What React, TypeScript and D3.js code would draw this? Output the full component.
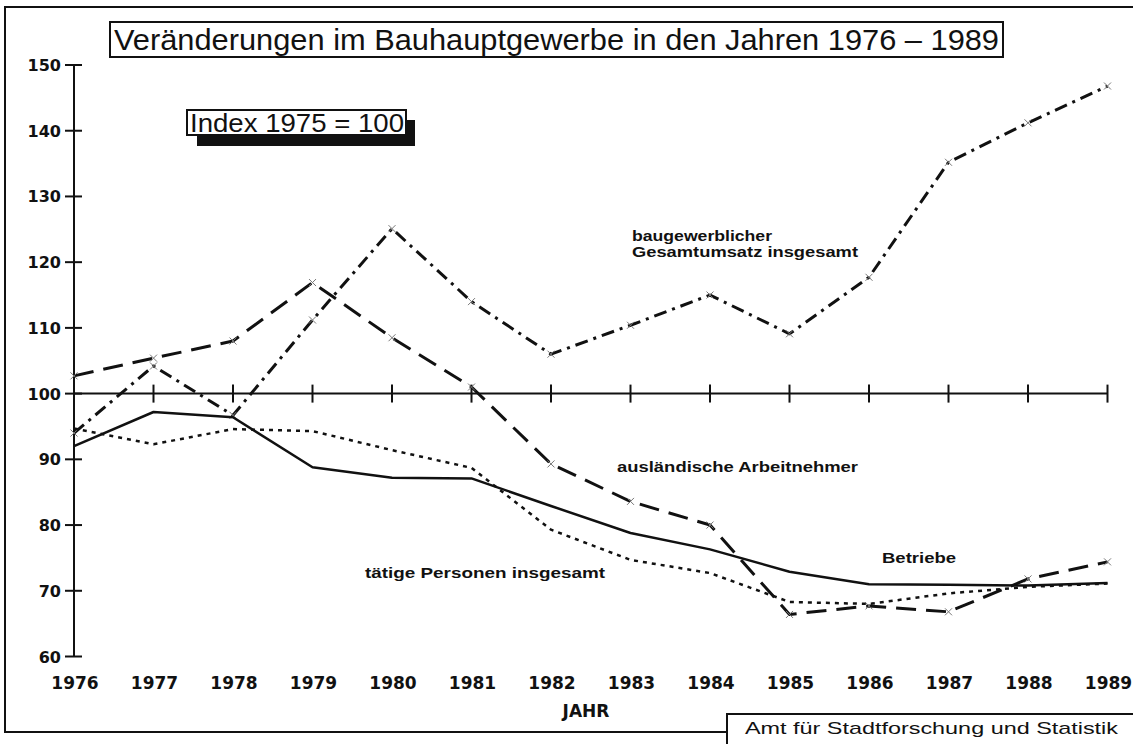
import * as d3 from 'd3';
import React, { useEffect, useRef } from 'react';

const years = [1976, 1977, 1978, 1979, 1980, 1981, 1982, 1983, 1984, 1985, 1986, 1987, 1988, 1989];
const umsatz = [94, 104.2, 96.7, 111.2, 125.1, 114, 106, 110.4, 115, 109.1, 117.7, 135.2, 141.2, 146.8];
const auslaender = [102.7, 105.4, 108, 116.9, 108.5, 101, 89.3, 83.6, 80, 66.4, 67.7, 66.8, 71.8, 74.4];
const betriebe = [92, 97.2, 96.4, 88.8, 87.2, 87.1, 82.9, 78.8, 76.3, 72.9, 71, 70.9, 70.8, 71.2];
const personen = [94.7, 92.3, 94.6, 94.3, 91.4, 88.7, 79.3, 74.7, 72.7, 68.3, 68, 69.6, 70.6, 71.1];
const yTicks = [60, 70, 80, 90, 100, 110, 120, 130, 140, 150];

const width = 1133;
const height = 744;
const boldFont = '"DejaVu Sans", Verdana, sans-serif';
const labelFont = '"Liberation Sans", Arial, sans-serif';
const narrowFont = '"Liberation Sans Narrow", "Liberation Sans", Arial, sans-serif';

export default function App() {
    const ref = useRef<SVGSVGElement>(null);

    useEffect(() => {
        const svg = d3.select(ref.current);
        svg.selectAll('*').remove();

        const x = d3.scaleLinear().domain([1976, 1989]).range([74, 1107.5]);
        const y = d3.scaleLinear().domain([60, 150]).range([656.5, 65]);

        svg.append('rect').attr('width', width).attr('height', height).attr('fill', '#fff');

        // outer frame
        svg.append('rect')
            .attr('x', 5).attr('y', 7).attr('width', 1140).attr('height', 725)
            .attr('fill', 'none').attr('stroke', '#111').attr('stroke-width', 2);

        // title
        svg.append('rect')
            .attr('x', 110).attr('y', 22).attr('width', 893).attr('height', 35)
            .attr('fill', '#fff').attr('stroke', '#111').attr('stroke-width', 2);
        svg.append('text')
            .attr('x', 114).attr('y', 50)
            .attr('font-family', narrowFont).attr('font-size', 30)
            .attr('textLength', 885).attr('lengthAdjust', 'spacingAndGlyphs')
            .attr('fill', '#111')
            .text('Veränderungen im Bauhauptgewerbe in den Jahren 1976 – 1989');

        // index box with shadow
        svg.append('rect').attr('x', 197).attr('y', 120).attr('width', 218).attr('height', 26).attr('fill', '#111');
        svg.append('rect')
            .attr('x', 187).attr('y', 110).attr('width', 219).attr('height', 25)
            .attr('fill', '#fff').attr('stroke', '#111').attr('stroke-width', 2);
        svg.append('text')
            .attr('x', 190).attr('y', 132)
            .attr('font-family', narrowFont).attr('font-size', 25)
            .attr('textLength', 214).attr('lengthAdjust', 'spacingAndGlyphs')
            .attr('fill', '#111')
            .text('Index 1975 = 100');

        // y axis
        const axis = svg.append('g').attr('stroke', '#111').attr('stroke-width', 2);
        axis.append('line').attr('x1', x(1976)).attr('x2', x(1976)).attr('y1', y(150)).attr('y2', y(60));
        axis.selectAll('.ytick').data(yTicks).join('line')
            .attr('x1', 65).attr('x2', 82)
            .attr('y1', (d) => y(d)).attr('y2', (d) => y(d));
        svg.selectAll('.ylab').data(yTicks).join('text')
            .attr('x', 61).attr('y', (d) => y(d) + 6)
            .attr('text-anchor', 'end')
            .attr('font-family', boldFont).attr('font-weight', 'bold').attr('font-size', 16)
            .attr('fill', '#111')
            .text((d) => d);

        // 100 reference line with year ticks
        axis.append('line').attr('x1', x(1976)).attr('x2', x(1989)).attr('y1', y(100)).attr('y2', y(100));
        axis.selectAll('.xtick').data(years.slice(1)).join('line')
            .attr('x1', (d) => x(d)).attr('x2', (d) => x(d))
            .attr('y1', y(100) - 9).attr('y2', y(100) + 9);

        // x labels
        svg.selectAll('.xlab').data(years).join('text')
            .attr('x', (d) => x(d) + 1).attr('y', 689)
            .attr('text-anchor', 'middle')
            .attr('font-family', boldFont).attr('font-weight', 'bold').attr('font-size', 17)
            .attr('fill', '#111')
            .text((d) => d);
        svg.append('text')
            .attr('x', 586).attr('y', 717).attr('text-anchor', 'middle')
            .attr('font-family', boldFont).attr('font-weight', 'bold').attr('font-size', 17)
            .attr('fill', '#111').text('JAHR');

        // source box
        svg.append('rect')
            .attr('x', 727).attr('y', 714).attr('width', 420).attr('height', 40)
            .attr('fill', '#fff').attr('stroke', '#111').attr('stroke-width', 2);
        svg.append('text')
            .attr('x', 745).attr('y', 734)
            .attr('font-family', narrowFont).attr('font-size', 17)
            .attr('textLength', 373).attr('lengthAdjust', 'spacingAndGlyphs')
            .attr('fill', '#111').text('Amt für Stadtforschung und Statistik');

        // series
        const line = d3.line<number>().x((d, i) => x(years[i])).y((d) => y(d));
        const series = [
            { values: umsatz, dash: '13,6,3,6', w: 3, marks: true },
            { values: auslaender, dash: '20,10', w: 3, marks: true },
            { values: betriebe, dash: null, w: 2.5, marks: false },
            { values: personen, dash: '4,5', w: 2.5, marks: false },
        ];
        series.forEach((s) => {
            svg.append('path')
                .datum(s.values)
                .attr('d', line)
                .attr('fill', 'none')
                .attr('stroke', '#111')
                .attr('stroke-width', s.w)
                .attr('stroke-dasharray', s.dash)
                .attr('stroke-linejoin', 'round');
            if (s.marks) {
                svg.selectAll(null).data(s.values).join('path')
                    .attr('d', (d, i) => {
                        const cx = x(years[i]);
                        const cy = y(d);
                        return `M${cx - 3.5},${cy - 3.5}L${cx + 3.5},${cy + 3.5}M${cx - 3.5},${cy + 3.5}L${cx + 3.5},${cy - 3.5}`;
                    })
                    .attr('stroke', '#777').attr('stroke-width', 1);
            }
        });

        // annotations
        const labels = [
            { text: 'baugewerblicher', x: 632, y: 241, len: 140 },
            { text: 'Gesamtumsatz insgesamt', x: 632, y: 257, len: 226 },
            { text: 'ausländische Arbeitnehmer', x: 617, y: 472, len: 241 },
            { text: 'Betriebe', x: 882, y: 563, len: 74 },
            { text: 'tätige Personen insgesamt', x: 365, y: 578, len: 240 },
        ];
        svg.selectAll('.anno').data(labels).join('text')
            .attr('x', (d) => d.x).attr('y', (d) => d.y)
            .attr('font-family', labelFont).attr('font-weight', 'bold').attr('font-size', 15)
            .attr('textLength', (d) => d.len).attr('lengthAdjust', 'spacingAndGlyphs')
            .attr('fill', '#111')
            .text((d) => d.text);
    }, []);

    return (
        <svg
            ref={ref}
            width={width}
            height={height}
            style={{ position: 'absolute', left: 0, top: 0, display: 'block' }}
        ></svg>
    );
}
